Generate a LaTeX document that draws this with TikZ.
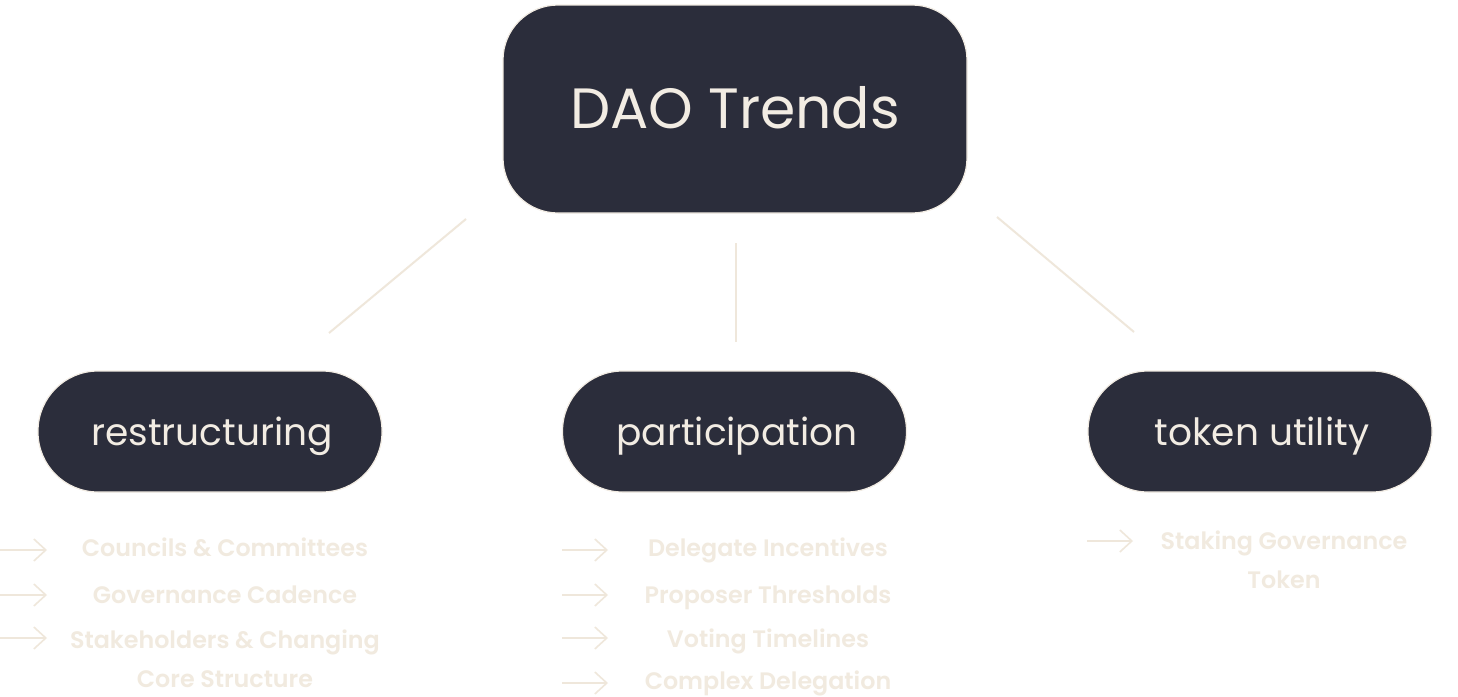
\documentclass[tikz,border=0pt]{standalone}
\usepackage{fontspec}
\setmainfont{Poppins}
\newfontfamily\itemfont{Poppins SemiBold}
\usetikzlibrary{arrows.meta}
\definecolor{navy}{HTML}{2B2D3B}
\definecolor{cream}{HTML}{F2ECE3}
\definecolor{itemc}{HTML}{F1EADF}
\definecolor{linec}{HTML}{EFE7DB}
\tikzset{
  mainbox/.style={draw=cream, line width=1.2pt, fill=navy, rounded corners=55pt, minimum width=464pt, minimum height=208pt, inner sep=0pt},
  subbox/.style={draw=cream, line width=1.2pt, fill=navy, rounded corners=60pt, minimum width=344pt, minimum height=121pt, inner sep=0pt},
  sublabel/.style={text=cream, font=\fontsize{37.5}{40}\selectfont, inner sep=0pt},
  conn/.style={draw=linec, line width=2pt},
  item/.style={text=itemc, font=\itemfont\fontsize{23.8}{39}\selectfont, align=center, inner sep=0pt},
  itemarrow/.style={draw=linec, line width=1.6pt, -{Straight Barb[length=12pt,width=22pt]}}
}
\begin{document}
\begin{tikzpicture}[x=1pt,y=-1pt]
\useasboundingbox[fill=white] (0,0) rectangle (1458,696);
\node[mainbox] (dao) at (735,109) {};
\node[text=cream, font=\fontsize{56.8}{60}\selectfont, inner sep=0pt] (daot) at (735,108) {DAO Trends};
\node[subbox] (res) at (210,431.5) {};
\node[subbox] (par) at (734.5,431.5) {};
\node[subbox] (tok) at (1260,431.5) {};
\node[sublabel] (rest) at (212,436) {restructuring};
\node[sublabel] (part) at (737,436) {participation};
\node[sublabel] (tokt) at (1262,436) {token utility};
\coordinate (l1a) at (466,219); \coordinate (l1b) at (329,333);
\coordinate (l2a) at (736,243); \coordinate (l2b) at (736,342);
\coordinate (l3a) at (997,217); \coordinate (l3b) at (1134,332);
\draw[conn] (l1a) -- (l1b);
\draw[conn] (l2a) -- (l2b);
\draw[conn] (l3a) -- (l3b);
% restructuring items
\node[item, anchor=base] (r1) at (225,556) {Councils \& Committees};
\node[item, anchor=base] (r2) at (225,603.5) {Governance Cadence};
\node[item] (r3) at (225,659) {Stakeholders \& Changing\\Core Structure};
\coordinate (ra1) at (0,550); \coordinate (rb1) at (47,550);
\coordinate (ra2) at (0,595); \coordinate (rb2) at (47,595);
\coordinate (ra3) at (0,638); \coordinate (rb3) at (47,638);
\draw[itemarrow] (ra1) -- (rb1);
\draw[itemarrow] (ra2) -- (rb2);
\draw[itemarrow] (ra3) -- (rb3);
% participation items
\node[item, anchor=base] (p1) at (768,556) {Delegate Incentives};
\node[item, anchor=base] (p2) at (768,603.5) {Proposer Thresholds};
\node[item, anchor=base] (p3) at (768,647.5) {Voting Timelines};
\node[item, anchor=base] (p4) at (768,689.5) {Complex Delegation};
\coordinate (pa1) at (562,550); \coordinate (pb1) at (608,550);
\coordinate (pa2) at (562,595); \coordinate (pb2) at (608,595);
\coordinate (pa3) at (562,638); \coordinate (pb3) at (608,638);
\coordinate (pa4) at (562,683); \coordinate (pb4) at (608,683);
\draw[itemarrow] (pa1) -- (pb1);
\draw[itemarrow] (pa2) -- (pb2);
\draw[itemarrow] (pa3) -- (pb3);
\draw[itemarrow] (pa4) -- (pb4);
% token items
\node[item] (t1) at (1284,560) {Staking Governance\\Token};
\coordinate (ta1) at (1087,541); \coordinate (tb1) at (1133,541);
\draw[itemarrow] (ta1) -- (tb1);
\end{tikzpicture}
\end{document}
